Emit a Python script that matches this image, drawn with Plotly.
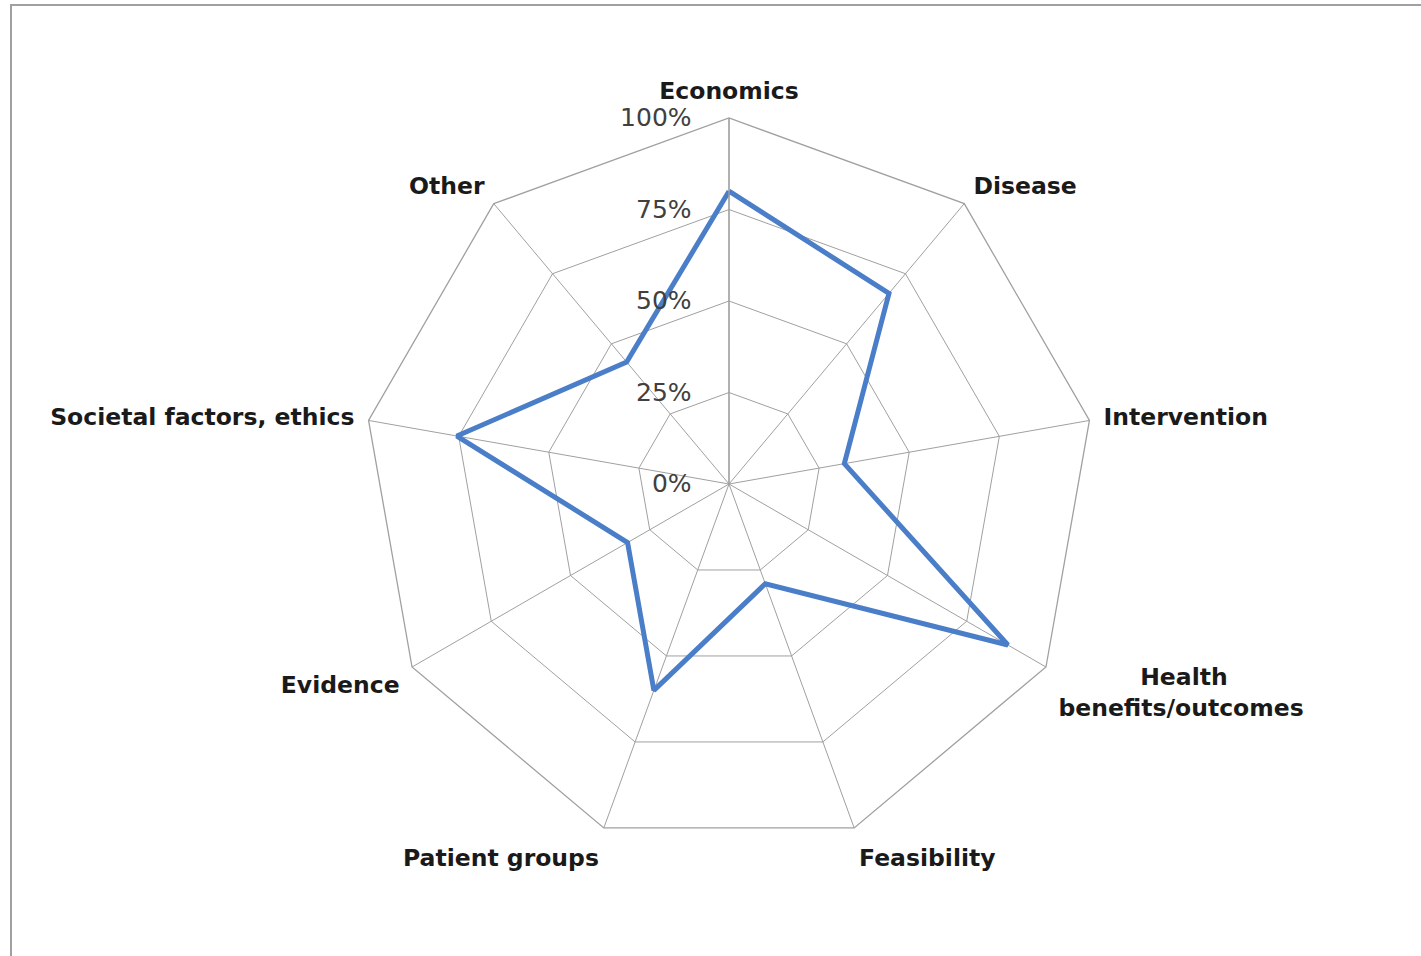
import plotly.graph_objects as go

categories = ["Economics", "Disease", "Intervention",
              "&#160;&#160;&#160;&#160;&#160;&#160;&#160;&#160;&#160;&#160;Health<br>benefits/outcomes",
              "Feasibility", "Patient groups", "Evidence", "Societal factors, ethics", "Other"]
values = [80, 68, 32, 88, 29, 60, 32, 75.5, 43.5]
tick_vals = [0, 25, 50, 75, 100]
tick_text = ["0%", "25%", "50%", "75%", "100%"]

W, H = 1421, 956
cx, cy, R = 729, 484, 366

fig = go.Figure()
fig.add_trace(go.Scatterpolar(
    r=values + [values[0]],
    theta=categories + [categories[0]],
    mode="lines",
    line=dict(color="#4A7EC8", width=5),
    showlegend=False,
))

fig.update_layout(
    width=W, height=H,
    margin=dict(l=0, r=0, t=0, b=0),
    paper_bgcolor="white",
    plot_bgcolor="white",
    font=dict(family="DejaVu Sans, sans-serif", color="#222222"),
    polar=dict(
        domain=dict(x=[(cx - R) / W, (cx + R) / W], y=[1 - (cy + R) / H, 1 - (cy - R) / H]),
        bgcolor="white",
        gridshape="linear",
        angularaxis=dict(
            rotation=90, direction="clockwise",
            linecolor="#A0A0A0", linewidth=1.3,
            gridcolor="#A0A0A0", gridwidth=1.3,
            showline=True, ticks="outside", ticklen=9, tickcolor="rgba(0,0,0,0)",
            tickfont=dict(size=23.5, color="#1a1a1a", family="DejaVu Sans, sans-serif", weight="bold"),
        ),
        radialaxis=dict(
            range=[0, 100], angle=90, tickangle=90,
            tickvals=tick_vals, ticktext=tick_text,
            side="counterclockwise",
            showline=True, linecolor="#A0A0A0", linewidth=1.3,
            gridcolor="#A0A0A0", gridwidth=1.3,
            ticks="outside", ticklen=28, tickcolor="rgba(0,0,0,0)",
            tickfont=dict(size=25, color="#404040", family="DejaVu Sans, sans-serif"),
        ),
    ),
    shapes=[dict(
        type="rect", xref="paper", yref="paper",
        x0=11 / W, x1=1.02, y0=-0.02, y1=1 - 5 / H,
        line=dict(color="#A0A0A0", width=2),
    )],
)

fig.write_html("out.html", config={"displayModeBar": False},
               post_script="document.body.style.margin='0';")
